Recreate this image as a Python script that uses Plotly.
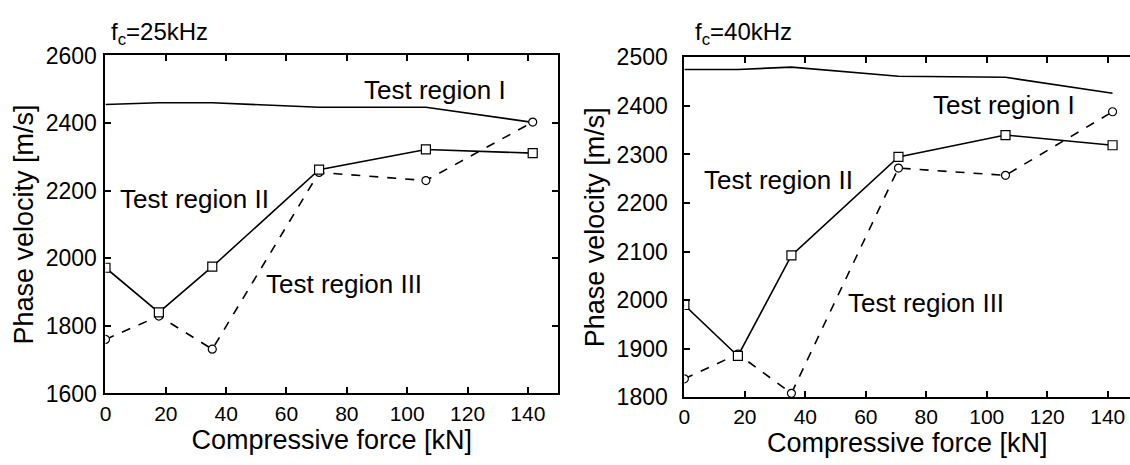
import plotly.graph_objects as go

# ---- data ----
force_kN = [0, 17.7, 35.4, 70.8, 106.2, 141.6]
x_ticks = [0, 20, 40, 60, 80, 100, 120, 140]

# f_c = 25 kHz
v25_region1 = [2455, 2460, 2460, 2447, 2447, 2402]
v25_region2 = [1972, 1840, 1975, 2262, 2322, 2311]
v25_region3 = [1760, 1829, 1731, 2254, 2230, 2403]
y25_ticks = [1600, 1800, 2000, 2200, 2400, 2600]

# f_c = 40 kHz
v40_region1 = [2475, 2475, 2480, 2461, 2459, 2426]
v40_region2 = [1990, 1885, 2092, 2295, 2340, 2319]
v40_region3 = [1838, 1889, 1808, 2272, 2257, 2388]
y40_ticks = [1800, 1900, 2000, 2100, 2200, 2300, 2400, 2500]

W, H = 1130, 465
FONT = "Liberation Sans, Arial, sans-serif"
BLACK = "#000000"

fig = go.Figure()

def add_panel(xa, ya, r1, r2, r3):
    fig.add_trace(go.Scatter(x=force_kN, y=r1, mode="lines",
                             line=dict(color=BLACK, width=1.6),
                             xaxis=xa, yaxis=ya, showlegend=False))
    fig.add_trace(go.Scatter(x=force_kN, y=r3, mode="lines+markers",
                             line=dict(color=BLACK, width=1.6, dash="dash"),
                             marker=dict(symbol="circle", size=8, color="white",
                                         line=dict(color=BLACK, width=1.2)),
                             xaxis=xa, yaxis=ya, showlegend=False))
    fig.add_trace(go.Scatter(x=force_kN, y=r2, mode="lines+markers",
                             line=dict(color=BLACK, width=1.6),
                             marker=dict(symbol="square", size=9, color="white",
                                         line=dict(color=BLACK, width=1.2)),
                             xaxis=xa, yaxis=ya, showlegend=False))

add_panel("x", "y", v25_region1, v25_region2, v25_region3)
add_panel("x2", "y2", v40_region1, v40_region2, v40_region3)

axis_common = dict(showgrid=False, zeroline=False, showline=True, linecolor=BLACK,
                   linewidth=2, ticks="inside", ticklen=6, tickwidth=1.5,
                   tickcolor=BLACK)

xtick_font = dict(family=FONT, size=21, color=BLACK)
ytick_font = dict(family=FONT, size=23, color=BLACK)
title_font = dict(family=FONT, size=27, color=BLACK)

fig.update_layout(
    width=W, height=H,
    margin=dict(l=0, r=0, t=0, b=0),
    paper_bgcolor="white", plot_bgcolor="white",
    xaxis=dict(**axis_common, domain=[100 / W, 555 / W], range=[0, 150],
               tickvals=x_ticks, mirror="ticks", anchor="y", tickfont=xtick_font,
               title=dict(text="Compressive force [kN]", font=title_font, standoff=0)),
    yaxis=dict(**axis_common, domain=[62 / H, 420 / H], range=[1600, 2600],
               tickvals=y25_ticks, mirror="ticks", anchor="x", tickfont=ytick_font,
               ticklabelstandoff=2,
               title=dict(text="Phase velocity [m/s]", font=title_font, standoff=4)),
    xaxis2=dict(**axis_common, domain=[682 / W, 1.0], range=[0, 448 / 3.04],
                tickvals=x_ticks, mirror="ticks", anchor="y2", tickfont=xtick_font,
                title=dict(text="Compressive force [kN]", font=title_font, standoff=0)),
    yaxis2=dict(**axis_common, domain=[58 / H, 418 / H], range=[1800, 2500],
                tickvals=y40_ticks, mirror=False, anchor="x2", tickfont=ytick_font,
                ticklabelstandoff=10,
                title=dict(text="Phase velocity [m/s]", font=title_font, standoff=4)),
)

ann_font = dict(family=FONT, size=26, color=BLACK)

def px_ann(text, xpx, ypx, font):
    fig.add_annotation(text=text, xref="paper", yref="paper",
                       x=xpx / W, y=1 - ypx / H, xanchor="center", yanchor="middle",
                       showarrow=False, font=font)

px_ann("Test region I", 431, 82, ann_font)
px_ann("Test region II", 190, 197, ann_font)
px_ann("Test region III", 340, 287, ann_font)
px_ann("Test region I", 1003, 97, ann_font)
px_ann("Test region II", 777, 177, ann_font)
px_ann("Test region III", 925, 307, ann_font)

head_font = dict(family=FONT, size=24, color=BLACK)
px_ann("f<sub>c</sub>=25kHz", 154, 22, head_font)
px_ann("f<sub>c</sub>=40kHz", 741, 22, head_font)

fig.write_html("out.html",
               config={"displayModeBar": False},
               post_script="document.body.style.margin='0';document.body.style.padding='0';document.body.style.overflow='hidden';")
